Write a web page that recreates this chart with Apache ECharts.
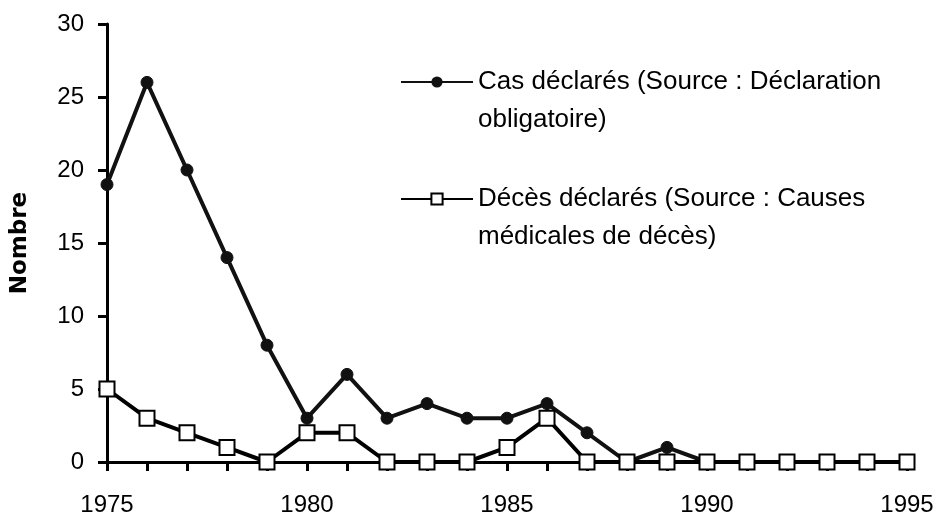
<!DOCTYPE html>
<html lang="fr" style="height: 100%">
<head>
  <meta charset="utf-8">
</head>
<body style="height: 100%; margin: 0; background: #fff">
  <div id="container" style="width: 941px; height: 528px"></div>

  <script type="text/javascript" src="https://cdn.jsdelivr.net/npm/echarts@6/dist/echarts.min.js"></script>

  <script type="text/javascript">
    var years = ['1975', '1976', '1977', '1978', '1979', '1980', '1981', '1982', '1983', '1984',
      '1985', '1986', '1987', '1988', '1989', '1990', '1991', '1992', '1993', '1994', '1995'];
    var casDeclares = [19, 26, 20, 14, 8, 3, 6, 3, 4, 3, 3, 4, 2, 0, 1, 0, 0, 0, 0, 0, 0];
    var decesDeclares = [5, 3, 2, 1, 0, 2, 2, 0, 0, 0, 1, 3, 0, 0, 0, 0, 0, 0, 0, 0, 0];
    var nameCas = 'Cas déclarés (Source : Déclaration\nobligatoire)';
    var nameDeces = 'Décès déclarés (Source : Causes\nmédicales de décès)';

    var dom = document.getElementById('container');
    var myChart = echarts.init(dom, null, { renderer: 'canvas' });
    var font = 'Liberation Sans';

    var option = {
      backgroundColor: '#fff',
      animation: false,
      grid: { left: 107, right: 34, top: 24, bottom: 66, outerBoundsMode: 'none' },
      legend: {
        orient: 'vertical',
        left: 395,
        top: 20,
        itemWidth: 72,
        itemHeight: 14,
        itemGap: 3,
        data: [nameCas, nameDeces],
        // empty first line keeps the icon level with the first line of text
        formatter: function (name) { return ' \n' + name; },
        textStyle: {
          fontFamily: font,
          fontSize: 26,
          lineHeight: 38,
          color: '#000'
        }
      },
      xAxis: {
        type: 'category',
        data: years,
        boundaryGap: false,
        axisLine: { lineStyle: { color: '#000', width: 3 } },
        axisTick: { interval: 0, length: 9, lineStyle: { color: '#000', width: 3 } },
        axisLabel: { interval: 4, margin: 31, color: '#000', fontFamily: font, fontSize: 24 },
        splitLine: { show: false }
      },
      yAxis: {
        type: 'value',
        min: 0,
        max: 30,
        interval: 5,
        name: 'Nombre',
        nameLocation: 'middle',
        nameGap: 75,
        nameTextStyle: { fontFamily: 'DejaVu Sans', fontWeight: 'bold', fontSize: 23, color: '#000' },
        axisLine: { show: true, lineStyle: { color: '#000', width: 3 } },
        axisTick: { show: true, length: 9, lineStyle: { color: '#000', width: 3 } },
        axisLabel: { margin: 23, color: '#000', fontFamily: font, fontSize: 24 },
        splitLine: { show: false }
      },
      series: [
        {
          name: nameCas,
          type: 'line',
          data: casDeclares,
          symbol: 'circle',
          symbolSize: 12,
          itemStyle: { color: '#111', borderColor: '#111' },
          lineStyle: { color: '#111', width: 4 },
          z: 3
        },
        {
          name: nameDeces,
          type: 'line',
          data: decesDeclares,
          symbol: 'rect',
          symbolSize: 15,
          itemStyle: { color: '#fff', borderColor: '#000', borderWidth: 2 },
          lineStyle: { color: '#000', width: 4 },
          z: 4
        }
      ]
    };

    myChart.setOption(option);
    window.addEventListener('resize', myChart.resize);
  </script>
</body>
</html>
